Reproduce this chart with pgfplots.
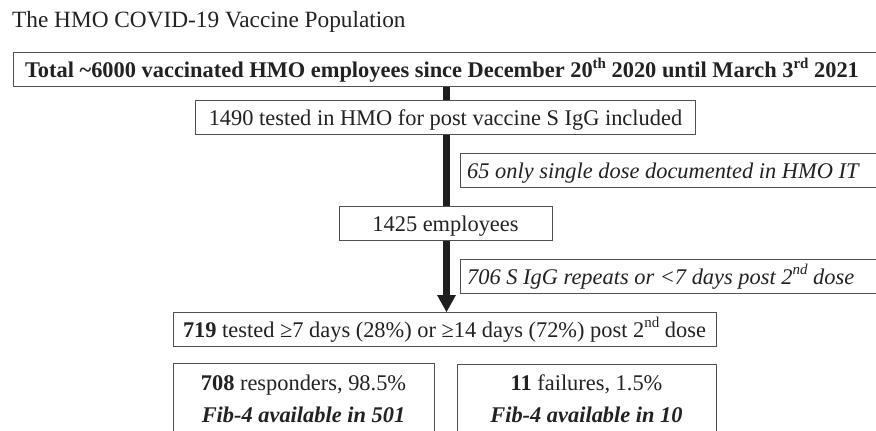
\documentclass[border=0pt]{standalone}
\usepackage{pgfplots}
\pgfplotsset{compat=1.18}
\usepackage{fontspec}
\setmainfont{Liberation Serif}
\definecolor{txt}{HTML}{222222}
\definecolor{edge}{HTML}{505050}
\newcommand\fs{\fontsize{22.4}{27}\selectfont}
\newcommand\sups[1]{\raisebox{0.42em}{\fontsize{15}{15}\selectfont #1}}
\begin{document}
\begin{tikzpicture}[txtnode/.style={text=txt,inner sep=0pt}]
\begin{axis}[width=876pt,height=431pt,scale only axis,hide axis,
  xmin=0,xmax=876,ymin=0,ymax=431,y dir=reverse,clip=true,
  box/.style={draw=edge,line width=0.9pt,fill=white}]
% main flow line and arrow head
\addplot[line width=6.5pt,color=black!88] coordinates {(446.5,86) (446.5,296)};
\addplot[fill=black!88,draw=none] coordinates {(437,295) (456,295) (446.5,312)} -- cycle;
% boxes
\addplot[box] coordinates {(13,52.7) (890,52.7) (890,86.7) (13,86.7)} -- cycle;
\addplot[box] coordinates {(195,100) (695,100) (695,134) (195,134)} -- cycle;
\addplot[box] coordinates {(460,153) (890,153) (890,187) (460,187)} -- cycle;
\addplot[box] coordinates {(339,206) (552,206) (552,240) (339,240)} -- cycle;
\addplot[box] coordinates {(460,259) (890,259) (890,293) (460,293)} -- cycle;
\addplot[box] coordinates {(173,312) (716,312) (716,346) (173,346)} -- cycle;
\addplot[box] coordinates {(173,363.5) (434,363.5) (434,445) (173,445)} -- cycle;
\addplot[box] coordinates {(457,364) (716,364) (716,445) (457,445)} -- cycle;
% texts
\node[txtnode,anchor=base west] at (axis cs:12,27.5) {\fontsize{23.3}{28}\selectfont The HMO COVID-19 Vaccine Population};
\node[txtnode,anchor=base] at (axis cs:442,77.5) {\fs\textbf{Total \textasciitilde6000 vaccinated HMO employees since December 20\sups{th} 2020 until March 3\sups{rd} 2021}};
\node[txtnode,anchor=base] at (axis cs:445.5,125) {\fs 1490 tested in HMO for post vaccine S IgG included};
\node[txtnode,anchor=base west] at (axis cs:467,178) {\fs\textit{65 only single dose documented in HMO IT}};
\node[txtnode,anchor=base] at (axis cs:445.5,231) {\fs 1425 employees};
\node[txtnode,anchor=base west] at (axis cs:467,284) {\fs\textit{706 S IgG repeats or <7 days post 2\sups{nd} dose}};
\node[txtnode,anchor=base] at (axis cs:444.5,337) {\fs\textbf{719} tested ≥7 days (28\%) or ≥14 days (72\%) post 2\sups{nd} dose};
\node[txtnode,anchor=base] at (axis cs:303.5,390) {\fs\textbf{708} responders, 98.5\%};
\node[txtnode,anchor=base] at (axis cs:303.5,422) {\fs\textbf{\textit{Fib-4 available in 501}}};
\node[txtnode,anchor=base] at (axis cs:586.5,390) {\fs\textbf{11} failures, 1.5\%};
\node[txtnode,anchor=base] at (axis cs:586.5,422) {\fs\textbf{\textit{Fib-4 available in 10}}};
\end{axis}
\pgfresetboundingbox
\useasboundingbox (current axis.south west) rectangle (current axis.north east);
\end{tikzpicture}
\end{document}
